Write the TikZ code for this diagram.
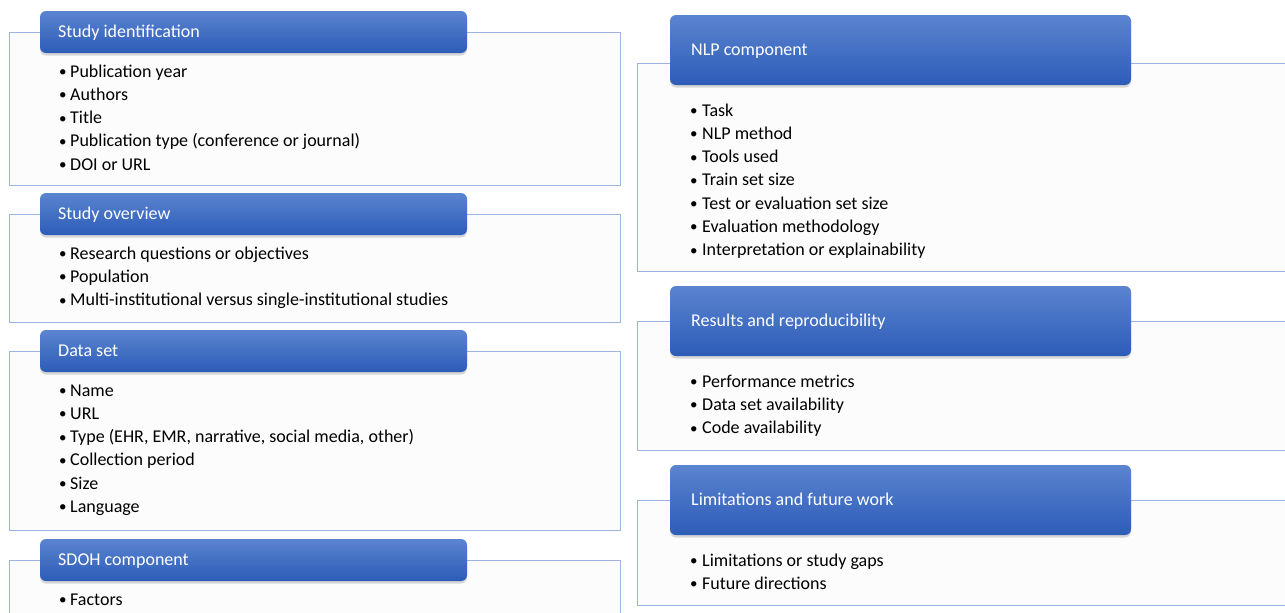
\documentclass[tikz,border=0pt]{standalone}
\usepackage{fontspec}
\setmainfont{Carlito}
\usetikzlibrary{shadows}
\definecolor{hdrtop}{HTML}{5B84D0}
\definecolor{hdrbot}{HTML}{2D5CB8}
\definecolor{panelline}{HTML}{9DB4E0}
\definecolor{panelfill}{HTML}{FCFCFC}
\tikzset{
  panel/.style={draw=panelline, fill=panelfill, line width=0.9pt},
  header/.style={rounded corners=6pt, top color=hdrtop, bottom color=hdrbot, draw=none,
    drop shadow={opacity=0.3, shadow xshift=0pt, shadow yshift=-2.5pt}},
  htext/.style={anchor=base west, inner sep=0pt, text=white, font=\fontsize{18}{21}\selectfont},
  item/.style={anchor=base west, inner sep=0pt, text=black, font=\fontsize{18}{21}\selectfont},
}
\newcommand{\bul}{\raisebox{0.6pt}{\fontsize{15}{15}\selectfont •}}
\newcommand{\blist}[5]{%
  \foreach \t [count=\i] in {#5} {
    \node[item] (#1-\i) at (#2, {#3+(\i-1)*23.3}) {\makebox[#4][l]{\bul}\t};
  }}
\begin{document}
\begin{tikzpicture}[x=1pt, y=-1pt]
\clip (0,0) rectangle (1285,613);
\fill[white] (0,0) rectangle (1285,613);
% ---- left column ----
\path[panel] (9,32) rectangle (620,185);
\path[header] (40,11) rectangle (467,53);
\node[htext] (h1) at (58,37) {Study identification};
\blist{a}{59}{77}{11pt}{Publication year, Authors, Title, Publication type (conference or journal), DOI or URL}

\path[panel] (9,214) rectangle (620,322);
\path[header] (40,193) rectangle (467,235);
\node[htext] (h2) at (58,219) {Study overview};
\blist{b}{59}{259}{11pt}{Research questions or objectives, Population, Multi-institutional versus single-institutional studies}

\path[panel] (9,351) rectangle (620,530);
\path[header] (40,330) rectangle (467,372);
\node[htext] (h3) at (58,356) {Data set};
\blist{c}{59}{396}{11pt}{Name, URL, {Type (EHR, EMR, narrative, social media, other)}, Collection period, Size, Language}

\path[panel] (9,560) rectangle (620,640);
\path[header] (40,539) rectangle (467,581);
\node[htext] (h4) at (58,565) {SDOH component};
\blist{d}{59}{605}{11pt}{Factors}

% ---- right column ----
\path[panel] (637,63) rectangle (1300,271);
\path[header] (670,15) rectangle (1131,85);
\node[htext] (h5) at (691,55) {NLP component};
\blist{e}{690}{116}{12pt}{Task, NLP method, Tools used, Train set size, Test or evaluation set size, Evaluation methodology, Interpretation or explainability}

\path[panel] (637,321) rectangle (1300,450);
\path[header] (670,286) rectangle (1131,356);
\node[htext] (h6) at (691,326) {Results and reproducibility};
\blist{f}{690}{387}{12pt}{Performance metrics, Data set availability, Code availability}

\path[panel] (637,500) rectangle (1300,605);
\path[header] (670,465) rectangle (1131,535);
\node[htext] (h7) at (691,505) {Limitations and future work};
\blist{g}{690}{566}{12pt}{Limitations or study gaps, Future directions}
\end{tikzpicture}
\end{document}
